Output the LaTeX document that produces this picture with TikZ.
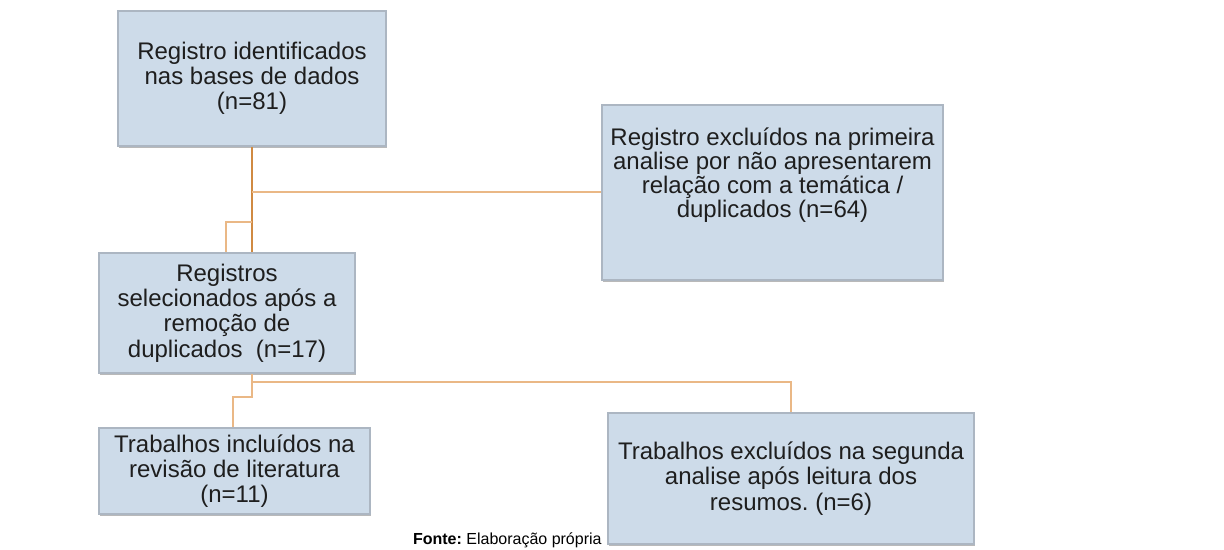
\documentclass[tikz,border=0pt]{standalone}
\usepackage{fontspec}
\setmainfont{Liberation Sans}
\usepackage{tikz}
\usetikzlibrary{calc,positioning,shadows}
\frenchspacing
\definecolor{boxfill}{RGB}{205,219,233}
\definecolor{boxline}{RGB}{172,182,194}
\definecolor{mainline}{RGB}{208,138,66}
\definecolor{branchline}{RGB}{234,184,134}
\definecolor{boxtext}{RGB}{30,30,30}
\tikzset{
  flowbox/.style={rectangle, draw=boxline, fill=boxfill, line width=0.6pt,
    inner sep=0pt, align=center, text=boxtext,
    font=\fontsize{12}{12.6}\selectfont,
    drop shadow={shadow xshift=0.4pt, shadow yshift=-0.8pt, fill=gray!55, opacity=1}},
  trunk/.style={draw=mainline, line width=1.1pt},
  branch/.style={draw=branchline, line width=0.8pt}
}
\begin{document}
\begin{tikzpicture}[x=0.5pt,y=-0.5pt]
        \useasboundingbox[fill=white] (0,0) rectangle (1224,550);
        % Boxes
        \node[flowbox, minimum width=134pt, minimum height=67.5pt] (ident) at (252,78.5)
          {Registro identificados\\nas bases de dados\\(n=81)};
        \node[flowbox, minimum width=170.5pt, minimum height=87.5pt] (excl1) at (772.5,192.5) {};
        \node[text=boxtext, align=center, font=\fontsize{12}{12}\selectfont] (excl1txt)
          at ([yshift=8.5pt]excl1.center)
          {Registro excluídos na primeira\\analise por não apresentarem\\relação com a temática /\\duplicados (n=64)};
        \node[flowbox, minimum width=128pt, minimum height=60pt] (selec) at (227,313)
          {Registros\\selecionados após a\\remoção de\\duplicados~ (n=17)};
        \node[flowbox, minimum width=135.5pt, minimum height=43pt] (incl) at (234.5,471)
          {Trabalhos incluídos na\\revisão de literatura\\(n=11)};
        \node[flowbox, minimum width=183pt, minimum height=65.5pt] (excl2) at (791,478.5)
          {Trabalhos excluídos na segunda\\analise após leitura dos\\resumos. (n=6)};
        % Source
        \node[anchor=east, inner sep=0pt, font=\fontsize{8}{9}\selectfont] (fonte) at (602,540)
          {\textbf{Fonte:} Elaboração própria};
        % Junction points
        \coordinate (j1) at (252,192);
        \coordinate (j2) at (252,222);
        \coordinate (k2) at (226,222);
        \coordinate (j3) at (252,382);
        \coordinate (j4) at (252,397);
        \coordinate (k4) at (233,397);
        % Connectors
        \draw[trunk] (ident.south) -- (ident.south |- selec.north);
        \draw[branch] (j1) -- (j1 -| excl1.west);
        \draw[branch] (j2) -- (k2) -- (k2 |- selec.north);
        \draw[branch] (j3 |- selec.south) -- (j3) -- (j3 -| excl2.north) -- (excl2.north);
        \draw[branch] (j3) -- (j4) -- (k4) -- (k4 |- incl.north);
\end{tikzpicture}
\end{document}
